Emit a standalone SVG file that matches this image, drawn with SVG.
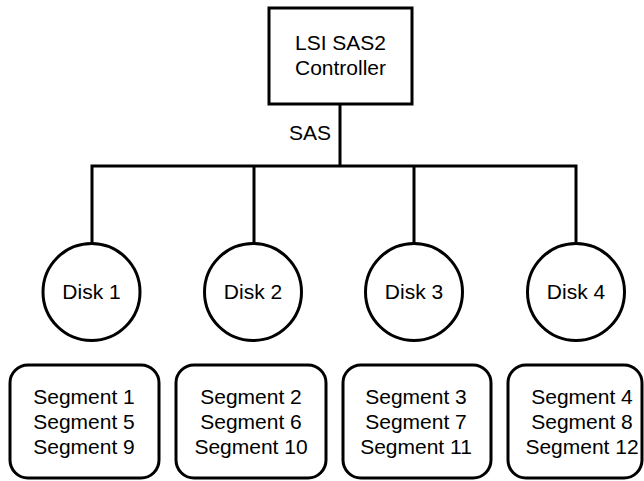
<svg xmlns="http://www.w3.org/2000/svg" width="644" height="481" viewBox="0 0 644 481">
<style>
.s{fill:#fff;stroke:#000;stroke-width:3}
.l{fill:none;stroke:#000;stroke-width:3}
text{font-family:"Liberation Sans",Arial,sans-serif;font-size:21px;fill:#000;text-anchor:middle}
</style>
<rect width="644" height="481" fill="#fff"/>
<g id="connectors">
<path class="l" d="M340,104 V166 M92,244 V166 H576 V244 M254,166 V244 M414,166 V244"/>
<text x="331" y="140" style="text-anchor:end">SAS</text>
</g>
<g id="controller">
<rect class="s" x="269" y="8" width="143" height="96"/>
<text x="340.5" y="50">LSI SAS2</text>
<text x="340.5" y="75">Controller</text>
</g>
<g id="disk1"><circle class="s" cx="91.5" cy="292" r="48.5"/><text x="91.5" y="299">Disk 1</text></g>
<g id="disk2"><circle class="s" cx="253" cy="292" r="48.5"/><text x="253" y="299">Disk 2</text></g>
<g id="disk3"><circle class="s" cx="414" cy="292" r="48.5"/><text x="414" y="299">Disk 3</text></g>
<g id="disk4"><circle class="s" cx="576" cy="292" r="48.5"/><text x="576" y="299">Disk 4</text></g>
<g id="seg1"><rect class="s" x="10" y="365" width="149" height="113" rx="18"/>
<text x="84" y="404">Segment 1</text><text x="84" y="429">Segment 5</text><text x="84" y="454">Segment 9</text></g>
<g id="seg2"><rect class="s" x="176" y="365" width="150" height="113" rx="18"/>
<text x="251" y="404">Segment 2</text><text x="251" y="429">Segment 6</text><text x="251" y="454">Segment 10</text></g>
<g id="seg3"><rect class="s" x="343" y="365" width="148" height="113" rx="18"/>
<text x="416" y="404">Segment 3</text><text x="416" y="429">Segment 7</text><text x="416" y="454">Segment 11</text></g>
<g id="seg4"><rect class="s" x="508" y="365" width="134" height="113" rx="18"/>
<text x="582" y="404">Segment 4</text><text x="582" y="429">Segment 8</text><text x="582" y="454">Segment 12</text></g>
</svg>
